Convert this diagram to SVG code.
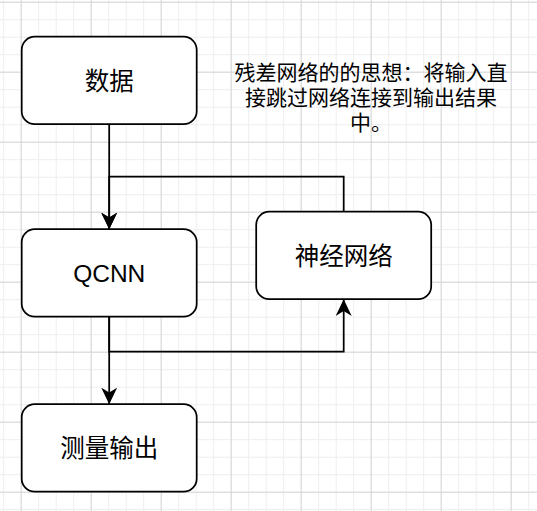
<svg xmlns="http://www.w3.org/2000/svg" width="537" height="511" viewBox="0 0 537 511">
<defs>
<pattern id="gMinor" patternUnits="userSpaceOnUse" x="3.2" y="1.7" width="17.5" height="17.5">
<path d="M0 0.5H17.5M0.5 0V17.5" stroke="#eeeeee" stroke-width="1" fill="none"/>
</pattern>
<pattern id="gMajor" patternUnits="userSpaceOnUse" x="20.7" y="1.7" width="70" height="70">
<path d="M0 0.5H70M0.5 0V70" stroke="#d6d6d6" stroke-width="1" fill="none"/>
</pattern>
<marker id="arr" markerUnits="userSpaceOnUse" viewBox="0 0 17 16" refX="16.6" refY="8" markerWidth="17" markerHeight="16" orient="auto">
<path d="M16.6 8L0 0L5 8L0 16Z" fill="#000"/>
</marker>
<style>
.box{fill:#fff;stroke:#000;stroke-width:1.75}
.lbl{font-family:"Liberation Sans","Noto Sans CJK SC",sans-serif;font-size:24.5px;fill:#000;text-anchor:middle}
.note{font-family:"Liberation Sans","Noto Sans CJK SC",sans-serif;font-size:21px;fill:#000;text-anchor:middle}
.edge{fill:none;stroke:#000;stroke-width:1.75;marker-end:url(#arr)}
</style>
</defs>
<rect width="537" height="511" fill="#fff"/>
<rect width="537" height="511" fill="url(#gMinor)"/>
<rect width="537" height="511" fill="url(#gMajor)"/>
<g id="connectors">
<path class="edge" d="M109.2 124.3V229.2"/>
<path class="edge" d="M343.7 211.7V176.7H109.2V229.2"/>
<path class="edge" d="M109.2 316.7V404.2"/>
<path class="edge" d="M109.2 316.7V351.7H343.7V299.3"/>
</g>
<g id="node-data">
<rect class="box" x="21.7" y="36.7" width="175" height="87.5" rx="13" ry="13"/>
<text class="lbl" x="109.2" y="89.5">数据</text>
</g>
<g id="node-qcnn">
<rect class="box" x="21.7" y="229.2" width="175" height="87.5" rx="13" ry="13"/>
<text class="lbl" x="109.2" y="282">QCNN</text>
</g>
<g id="node-nn">
<rect class="box" x="256.2" y="211.7" width="175" height="87.5" rx="13" ry="13"/>
<text class="lbl" x="343.7" y="264.5">神经网络</text>
</g>
<g id="node-out">
<rect class="box" x="21.7" y="404.2" width="175" height="87.5" rx="13" ry="13"/>
<text class="lbl" x="109.2" y="457">测量输出</text>
</g>
<g id="note">
<text class="note" x="371" y="80">残差网络的的思想：将输入直</text>
<text class="note" x="371" y="105.2">接跳过网络连接到输出结果</text>
<text class="note" x="371" y="130.4">中。</text>
</g>
</svg>
